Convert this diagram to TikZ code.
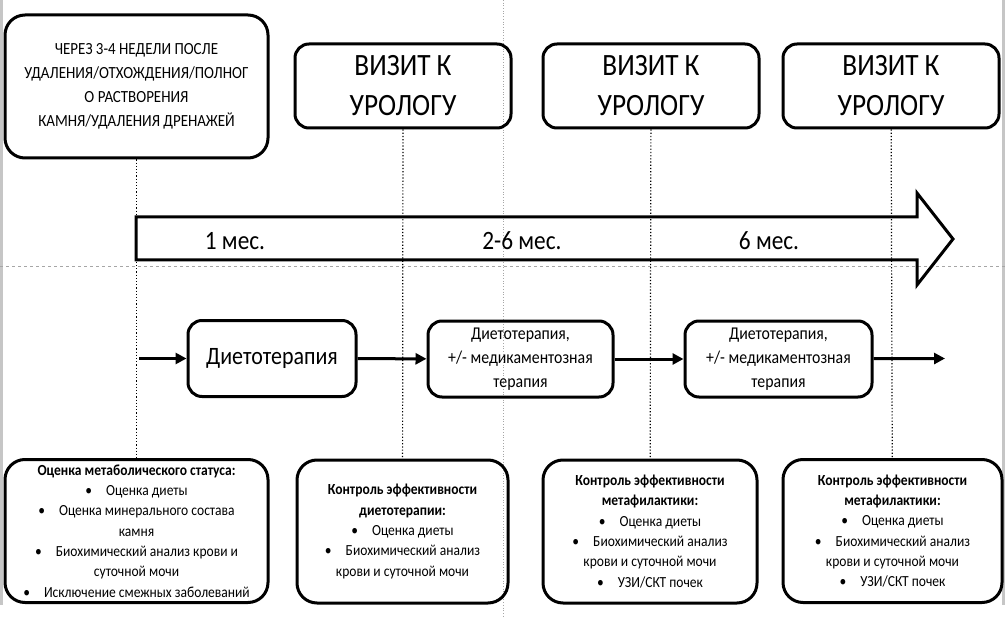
\documentclass[tikz,border=0pt]{standalone}
\usepackage{fontspec}
\setmainfont{Carlito}[FakeStretch=0.88]
\usetikzlibrary{positioning,arrows.meta,calc}

\begin{document}
\begin{tikzpicture}[x=1pt,y=-1pt,
    box/.style={draw,line width=3pt,rounded corners=14pt,align=center,inner sep=0pt},
    visit/.style={box,minimum width=216pt,minimum height=84pt,font=\fontsize{31}{40}\selectfont},
    ther/.style={box,minimum height=76pt,font=\fontsize{18}{24}\selectfont},
    ctrl/.style={box,rounded corners=20pt,minimum height=143pt,font=\fontsize{15.4}{20.3}\selectfont},
    guide/.style={line width=3pt,-{Triangle[length=11pt,width=11pt]}},
    month/.style={font=\fontsize{26.5}{30}\selectfont}]
    \useasboundingbox (0,0) rectangle (1008,617);
    % page guides of the screenshot
    \fill [gray!45] (0,0) rectangle (3,605);
    \fill [gray!45] (1002,0) rectangle (1005,605);
    \draw [gray!70,dashed,line width=.7pt] (0,266) -- (1008,266);
    \draw [gray!70,dotted,line width=.7pt] (503,0) -- (503,617);
    % top row
    \node [box,rounded corners=20pt,minimum width=263pt,minimum height=143pt,
      font=\fontsize{17}{24}\selectfont] (start) at (136.5,86.5)
      {ЧЕРЕЗ 3-4 НЕДЕЛИ ПОСЛЕ\\ УДАЛЕНИЯ/ОТХОЖДЕНИЯ/ПОЛНОГ\\ О РАСТВОРЕНИЯ\\ КАМНЯ/УДАЛЕНИЯ ДРЕНАЖЕЙ};
    \node [visit] (v1) at (403,86) {ВИЗИТ К\\ УРОЛОГУ};
    \node [visit] (v2) at (651,86) {ВИЗИТ К\\ УРОЛОГУ};
    \node [visit] (v3) at (891,86) {ВИЗИТ К\\ УРОЛОГУ};
    % bottom row
    \node [ctrl,minimum width=263pt] (b1) at (136.5,531)
      {\textbf{Оценка метаболического статуса:}\\
       \textbullet\hspace{14pt}Оценка диеты\\
       \textbullet\hspace{14pt}Оценка минерального состава\\ камня\\
       \textbullet\hspace{14pt}Биохимический анализ крови и\\ суточной мочи\\
       \textbullet\hspace{14pt}Исключение смежных заболеваний};
    \node [ctrl,minimum width=211pt] (b2) at (402.5,531.5)
      {\textbf{Контроль эффективности}\\ \textbf{диетотерапии:}\\
       \textbullet\hspace{14pt}Оценка диеты\\
       \textbullet\hspace{14pt}Биохимический анализ\\ крови и суточной мочи};
    \node [ctrl,minimum width=214pt] (b3) at (650,531.5)
      {\textbf{Контроль эффективности}\\ \textbf{метафилактики:}\\
       \textbullet\hspace{14pt}Оценка диеты\\
       \textbullet\hspace{14pt}Биохимический анализ\\ крови и суточной мочи\\
       \textbullet\hspace{14pt}УЗИ/СКТ почек};
    \node [ctrl,minimum width=219pt] (b4) at (892.5,531)
      {\textbf{Контроль эффективности}\\ \textbf{метафилактики:}\\
       \textbullet\hspace{14pt}Оценка диеты\\
       \textbullet\hspace{14pt}Биохимический анализ\\ крови и суточной мочи\\
       \textbullet\hspace{14pt}УЗИ/СКТ почек};
    % dotted time marks
    \draw [dotted,line width=1.2pt] (start) -- (b1);
    \draw [dotted,line width=1.2pt] (v1) -- (b2);
    \draw [dotted,line width=1.2pt] (v2) -- (b3);
    \draw [dotted,line width=1.2pt] (v3) -- (b4);
    % time arrow
    \draw [line width=3pt,line join=miter] (136,217) -- (917,217) -- (917,193) -- (953,239)
      -- (917,285) -- (917,260) -- (136,260) -- cycle;
    \node [month] (m1) at (235,241) {1 мес.};
    \node [month] (m2) at (522,241) {2-6 мес.};
    \node [month] (m3) at (769,241) {6 мес.};
    % therapy row
    \node [ther,minimum width=168pt,font=\fontsize{25}{28}\selectfont] (diet) at (272,358.5) {Диетотерапия};
    \node [ther,minimum width=185pt] (dm1) at (520.5,359) {Диетотерапия,\\ +/- медикаментозная\\ терапия};
    \node [ther,minimum width=187pt] (dm2) at (778.5,359) {Диетотерапия,\\ +/- медикаментозная\\ терапия};
    \coordinate (t0) at (139,358.5);
    \coordinate (t1) at (945,358.5);
    \draw [guide] (t0) -- (diet);
    \draw [guide] (diet) -- (dm1);
    \draw [guide] (dm1) -- (dm2);
    \draw [guide] (dm2) -- (t1);
\end{tikzpicture}
\end{document}
